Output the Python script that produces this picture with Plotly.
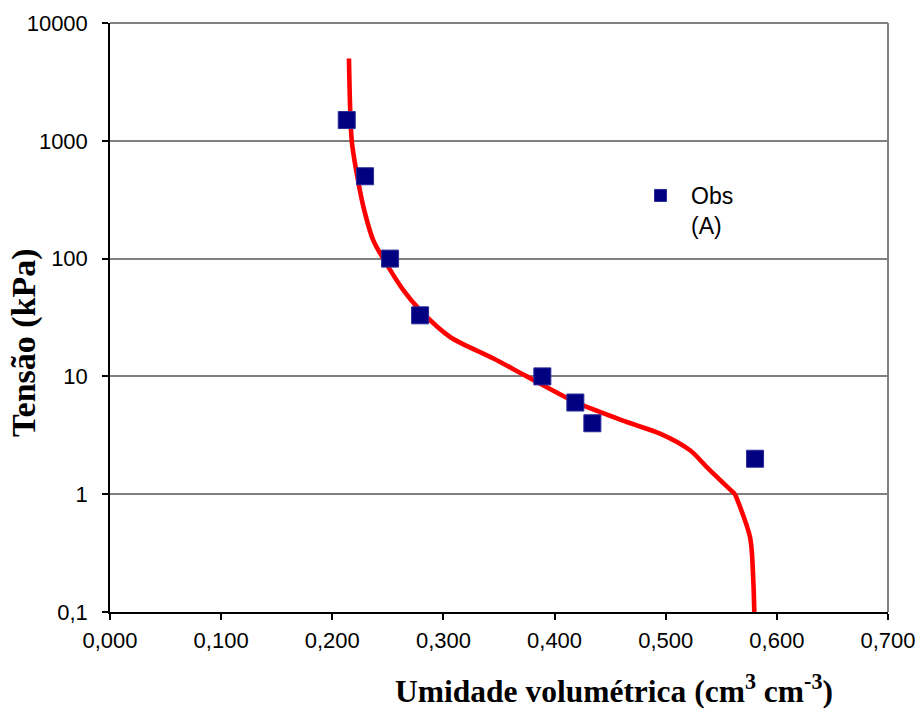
import plotly.graph_objects as go

# Observed data
obs_theta = [0.213, 0.2295, 0.252, 0.279, 0.389, 0.4187, 0.434, 0.5804]
obs_h = [1500, 500, 100, 33, 10, 6, 4, 2]

# Fitted curve
fit_theta = [0.2150, 0.2175, 0.2220, 0.2280, 0.2369, 0.2504, 0.2639, 0.2790, 0.3060,
             0.3450, 0.3750, 0.4184, 0.4650, 0.4949, 0.5219, 0.5369, 0.5624, 0.5759,
             0.5788, 0.5797]
fit_h = [5000, 1000, 528, 275, 143, 85, 54, 36.5, 21.6,
         14.2, 10, 6.07, 4.1, 3.27, 2.36, 1.70, 1.0, 0.43,
         0.185, 0.1]

x_ticks = [0, 0.1, 0.2, 0.3, 0.4, 0.5, 0.6, 0.7]
x_ticktext = ["0,000", "0,100", "0,200", "0,300", "0,400", "0,500", "0,600", "0,700"]
y_ticks = [0.1, 1, 10, 100, 1000, 10000]
y_ticktext = ["0,1", "1", "10", "100", "1000", "10000"]

W, H = 920, 708
L, R, T, B = 110, 32, 23, 96
pw = W - L - R
ph = H - T - B

# the fitted curve has a visible corner at h = 1: draw it as two smooth pieces
k = fit_h.index(1.0)

fig = go.Figure()
for xs, ys in [(fit_theta[:k + 1], fit_h[:k + 1]), (fit_theta[k:], fit_h[k:])]:
    fig.add_trace(go.Scatter(x=xs, y=ys, mode="lines",
                             line=dict(color="#FF0000", width=4.6, shape="spline", smoothing=0.8),
                             showlegend=False))
fig.add_trace(go.Scatter(x=obs_theta, y=obs_h, mode="markers",
                         marker=dict(symbol="square", size=17, color="#000080",
                                     line=dict(color="#2a2a99", width=1)),
                         showlegend=False))
# legend entry
fig.add_trace(go.Scatter(x=[None], y=[None], mode="markers", name="Obs<br>(A)",
                         marker=dict(symbol="square", size=12, color="#000080",
                                     line=dict(color="#2a2a99", width=1))))

serif = "Liberation Serif, Times New Roman, serif"

fig.update_layout(
    width=W, height=H,
    margin=dict(l=L, r=R, t=T, b=B, autoexpand=False),
    paper_bgcolor="white", plot_bgcolor="white",
    font=dict(family="Liberation Sans, Arial, sans-serif", size=22, color="black"),
    showlegend=True,
    legend=dict(x=(630 - L) / pw, y=1 - (174 - T) / ph, xanchor="left", yanchor="top",
                bgcolor="rgba(0,0,0,0)", font=dict(size=23), valign="top", itemwidth=51),
    xaxis=dict(range=[0, 0.7], tickvals=x_ticks, ticktext=x_ticktext,
               showgrid=False, zeroline=False, automargin=False,
               showline=True, linecolor="black", linewidth=1.5,
               ticks="outside", ticklen=6, tickcolor="black", tickwidth=1.5,
               ticklabelstandoff=2),
    yaxis=dict(type="log", range=[-1, 4], tickvals=y_ticks, ticktext=y_ticktext,
               showgrid=True, gridcolor="#808080", gridwidth=1.5, zeroline=False,
               automargin=False,
               showline=True, linecolor="black", linewidth=1.5,
               ticks="outside", ticklen=6, tickcolor="black", tickwidth=1.5,
               ticklabelstandoff=10),
    shapes=[
        dict(type="line", xref="paper", yref="paper", x0=0, x1=1, y0=1, y1=1,
             line=dict(color="#808080", width=2)),
        dict(type="line", xref="paper", yref="paper", x0=1, x1=1, y0=0, y1=1,
             line=dict(color="#808080", width=2)),
    ],
    annotations=[
        dict(text="<b>Umidade volumétrica (cm<sup>3</sup> cm<sup>-3</sup>)</b>",
             xref="paper", yref="paper", x=(614 - L) / pw, y=-(689 - (H - B)) / ph,
             xanchor="center", yanchor="middle", showarrow=False,
             font=dict(family=serif, size=31.5, color="black")),
        dict(text="<b>Tensão (kPa)</b>", textangle=-90,
             xref="paper", yref="paper", x=-(L - 24) / pw, y=(H - B - 343) / ph,
             xanchor="center", yanchor="middle", showarrow=False,
             font=dict(family=serif, size=34, color="black")),
    ],
)

fig.write_html("out.html", config={"displayModeBar": False},
               post_script="document.body.style.margin='0';")
